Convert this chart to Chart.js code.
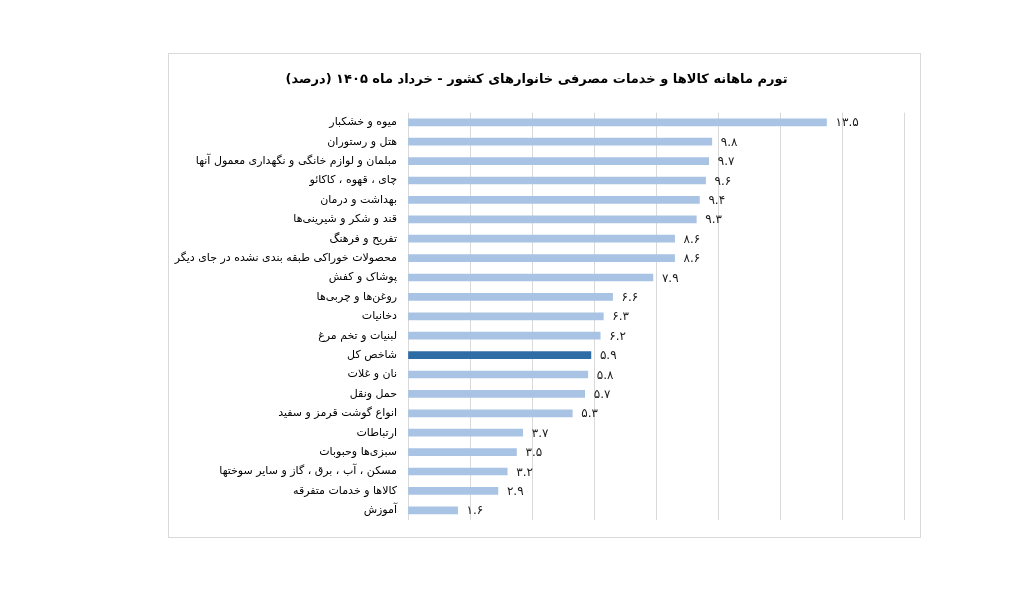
<!DOCTYPE html>
<html lang="fa">
<head>
<meta charset="utf-8">
<script src="https://cdn.jsdelivr.net/npm/chart.js@4.4.1/dist/chart.umd.min.js"></script>
<style>
  body { margin: 0; background: #fff; }
  .frame {
    position: absolute; left: 168px; top: 53px;
    width: 751px; height: 483px;
    border: 1px solid #d9d9d9;
  }
</style>
</head>
<body>
<div class="frame"><canvas id="chart" dir="rtl"></canvas></div>
<script>
const categories = [
  'میوه و خشکبار',
  'هتل و رستوران',
  'مبلمان و لوازم خانگی و نگهداری معمول آنها',
  'چای ، قهوه ، کاکائو',
  'بهداشت و درمان',
  'قند و شکر و شیرینی‌ها',
  'تفریح و فرهنگ',
  'محصولات خوراکی طبقه بندی نشده در جای دیگر',
  'پوشاک و کفش',
  'روغن‌ها و چربی‌ها',
  'دخانیات',
  'لبنیات و تخم مرغ',
  'شاخص کل',
  'نان و غلات',
  'حمل ونقل',
  'انواع گوشت قرمز و سفید',
  'ارتباطات',
  'سبزی‌ها وحبوبات',
  'مسکن ، آب ، برق ، گاز و سایر سوختها',
  'کالاها و خدمات متفرقه',
  'آموزش'
]
const inflation = [13.5, 9.8, 9.7, 9.6, 9.4, 9.3, 8.6, 8.6, 7.9, 6.6, 6.3, 6.2, 5.9, 5.8, 5.7, 5.3, 3.7, 3.5, 3.2, 2.9, 1.6]
const highlight = 'شاخص کل'
const xMax = 16
const xStep = 2

const font = "'DejaVu Sans', sans-serif"
const faDigits = '۰۱۲۳۴۵۶۷۸۹'
function toFa(v){
  return String(v).replace(/\d/g, d => faDigits[d])
}

const barColors = categories.map(c => c == highlight ? '#2e6ca6' : '#a8c3e4')

// value labels at the end of each bar
const valueLabels = {
  id : 'valueLabels',
  afterDatasetsDraw(chart){
    const ctx = chart.ctx
    const meta = chart.getDatasetMeta(0)
    ctx.save()
    ctx.font = '12px ' + font
    ctx.fillStyle = '#1a1a1a'
    ctx.textAlign = 'left'
    ctx.textBaseline = 'middle'
    meta.data.forEach((bar, i) => {
      ctx.fillText(toFa(inflation[i]), bar.x + 9, bar.y + 1)
    })
    ctx.restore()
  }
}

new Chart(document.getElementById('chart'), {
  type : 'bar',
  data : {
    labels : categories,
    datasets : [{
      data : inflation,
      backgroundColor : barColors,
      barThickness : 7,
      borderWidth : 0
    }]
  },
  plugins : [valueLabels],
  options : {
    indexAxis : 'y',
    responsive : true,
    maintainAspectRatio : false,
    animation : false,
    layout : { padding : { left : 0, right : 16, top : 0, bottom : 17 } },
    plugins : {
      legend : { display : false },
      tooltip : { enabled : false },
      title : {
        display : true,
        text : 'تورم ماهانه کالاها و خدمات مصرفی خانوارهای کشور - خرداد ماه ۱۴۰۵ (درصد)',
        color : '#000',
        font : { family : font, size : 13, weight : 'bold' },
        padding : { top : 18, bottom : 25 }
      }
    },
    scales : {
      x : {
        min : 0,
        max : xMax,
        ticks : { display : false, stepSize : xStep },
        grid : { color : '#d9d9d9', drawTicks : false },
        border : { display : false }
      },
      y : {
        afterFit : scale => { scale.width = 239 },
        ticks : {
          color : '#000',
          font : { family : font, size : 11 },
          padding : 3,
          autoSkip : false
        },
        grid : { display : false },
        border : { display : false }
      }
    }
  }
})
</script>
</body>
</html>
